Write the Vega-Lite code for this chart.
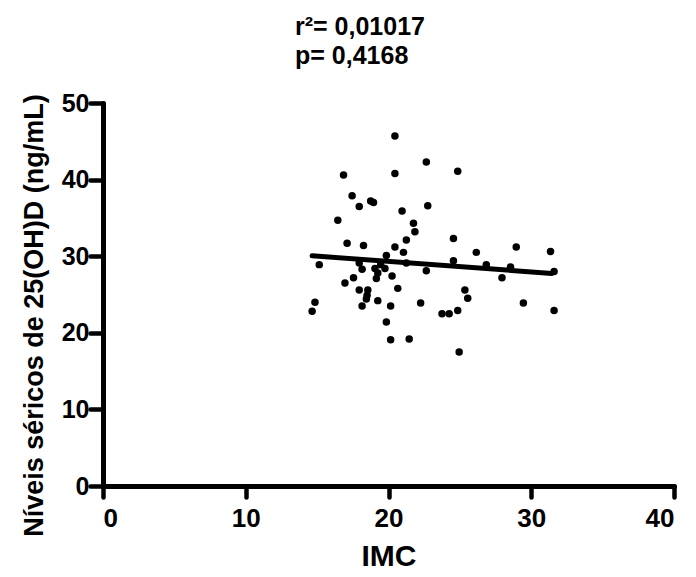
{
  "$schema": "https://vega.github.io/schema/vega-lite/v6.json",
  "autosize": "none",
  "width": 571,
  "height": 383,
  "padding": {"left": 103, "top": 103, "right": 22, "bottom": 91},
  "background": "white",
  "config": {"view": {"stroke": null}, "font": "Liberation Sans"},
  "title": {
    "text": ["r²= 0,01017", "p= 0,4168"],
    "anchor": "start",
    "align": "left",
    "frame": "group",
    "dx": 192,
    "fontSize": 25,
    "fontWeight": "bold",
    "font": "Liberation Sans",
    "color": "black",
    "lineHeight": 29,
    "offset": 22
  },
  "datasets": {
    "points": [
      {"imc": 20.45, "vitd": 45.7}, {"imc": 22.65, "vitd": 42.3}, {"imc": 16.85, "vitd": 40.6},
      {"imc": 20.45, "vitd": 40.8}, {"imc": 17.45, "vitd": 37.9}, {"imc": 17.95, "vitd": 36.5},
      {"imc": 18.75, "vitd": 37.2}, {"imc": 18.95, "vitd": 37.0}, {"imc": 20.95, "vitd": 35.9},
      {"imc": 22.75, "vitd": 36.6}, {"imc": 16.45, "vitd": 34.7}, {"imc": 21.75, "vitd": 34.3},
      {"imc": 21.85, "vitd": 33.2}, {"imc": 21.25, "vitd": 32.1}, {"imc": 17.1, "vitd": 31.7},
      {"imc": 18.25, "vitd": 31.4}, {"imc": 20.45, "vitd": 31.2}, {"imc": 21.05, "vitd": 30.5},
      {"imc": 19.85, "vitd": 30.1}, {"imc": 15.15, "vitd": 28.9}, {"imc": 17.95, "vitd": 29.1},
      {"imc": 18.15, "vitd": 28.3}, {"imc": 19.05, "vitd": 28.4}, {"imc": 19.45, "vitd": 28.9},
      {"imc": 19.75, "vitd": 28.4}, {"imc": 19.25, "vitd": 27.8}, {"imc": 19.15, "vitd": 27.1},
      {"imc": 21.25, "vitd": 29.1}, {"imc": 22.65, "vitd": 28.1}, {"imc": 17.55, "vitd": 27.2},
      {"imc": 16.95, "vitd": 26.5}, {"imc": 20.25, "vitd": 27.4}, {"imc": 20.65, "vitd": 25.8},
      {"imc": 17.95, "vitd": 25.6}, {"imc": 18.55, "vitd": 25.6}, {"imc": 18.5, "vitd": 24.9},
      {"imc": 18.45, "vitd": 24.4}, {"imc": 14.85, "vitd": 24.0}, {"imc": 14.65, "vitd": 22.8},
      {"imc": 18.15, "vitd": 23.5}, {"imc": 19.25, "vitd": 24.2}, {"imc": 20.15, "vitd": 23.5},
      {"imc": 22.25, "vitd": 23.9}, {"imc": 19.85, "vitd": 21.4}, {"imc": 20.15, "vitd": 19.1},
      {"imc": 21.45, "vitd": 19.2}, {"imc": 24.85, "vitd": 41.1}, {"imc": 24.55, "vitd": 32.3},
      {"imc": 28.95, "vitd": 31.2}, {"imc": 31.35, "vitd": 30.6}, {"imc": 26.15, "vitd": 30.5},
      {"imc": 24.55, "vitd": 29.4}, {"imc": 26.85, "vitd": 28.9}, {"imc": 28.55, "vitd": 28.6},
      {"imc": 31.6, "vitd": 28.0}, {"imc": 27.95, "vitd": 27.2}, {"imc": 25.35, "vitd": 25.6},
      {"imc": 25.55, "vitd": 24.5}, {"imc": 29.45, "vitd": 23.9}, {"imc": 23.75, "vitd": 22.5},
      {"imc": 24.25, "vitd": 22.5}, {"imc": 24.85, "vitd": 22.9}, {"imc": 31.6, "vitd": 22.9},
      {"imc": 24.95, "vitd": 17.5}
    ],
    "fit": [
      {"imc": 14.65, "vitd": 30.05},
      {"imc": 31.45, "vitd": 27.75}
    ]
  },
  "layer": [
    {
      "data": {"name": "fit"},
      "mark": {"type": "line", "color": "black", "strokeWidth": 5, "strokeCap": "round"},
      "encoding": {
        "x": {"field": "imc", "type": "quantitative"},
        "y": {"field": "vitd", "type": "quantitative"}
      }
    },
    {
      "data": {"name": "points"},
      "mark": {"type": "circle", "color": "black", "opacity": 1, "size": 56},
      "encoding": {
        "x": {
          "field": "imc",
          "type": "quantitative",
          "scale": {"domain": [0, 40], "nice": false, "zero": false},
          "axis": {
            "title": "IMC",
            "values": [0, 10, 20, 30, 40],
            "grid": false,
            "domainColor": "black",
            "domainWidth": 5,
            "domainCap": "round",
            "tickColor": "black",
            "tickWidth": 4.5,
            "tickSize": 11,
            "tickCap": "round",
            "labelFont": "Liberation Sans",
            "labelFontSize": 26,
            "labelFontWeight": "bold",
            "labelColor": "black",
            "labelPadding": 8,
            "titleFont": "Liberation Sans",
            "titleFontSize": 30,
            "titleFontWeight": "bold",
            "titleColor": "black",
            "titlePadding": 10
          }
        },
        "y": {
          "field": "vitd",
          "type": "quantitative",
          "scale": {"domain": [0, 50], "nice": false, "zero": false},
          "axis": {
            "title": "Níveis séricos de 25(OH)D (ng/mL)",
            "values": [0, 10, 20, 30, 40, 50],
            "grid": false,
            "domainColor": "black",
            "domainWidth": 5,
            "domainCap": "round",
            "tickColor": "black",
            "tickWidth": 4.5,
            "tickSize": 13,
            "tickCap": "round",
            "labelFont": "Liberation Sans",
            "labelFontSize": 25,
            "labelFontWeight": "bold",
            "labelColor": "black",
            "labelPadding": 1,
            "titleFont": "Liberation Sans",
            "titleFontSize": 27,
            "titleFontWeight": "bold",
            "titleColor": "black",
            "titleAngle": -90,
            "titleAlign": "center",
            "titleBaseline": "middle",
            "titleX": -69,
            "titleY": 212
          }
        }
      }
    }
  ]
}
